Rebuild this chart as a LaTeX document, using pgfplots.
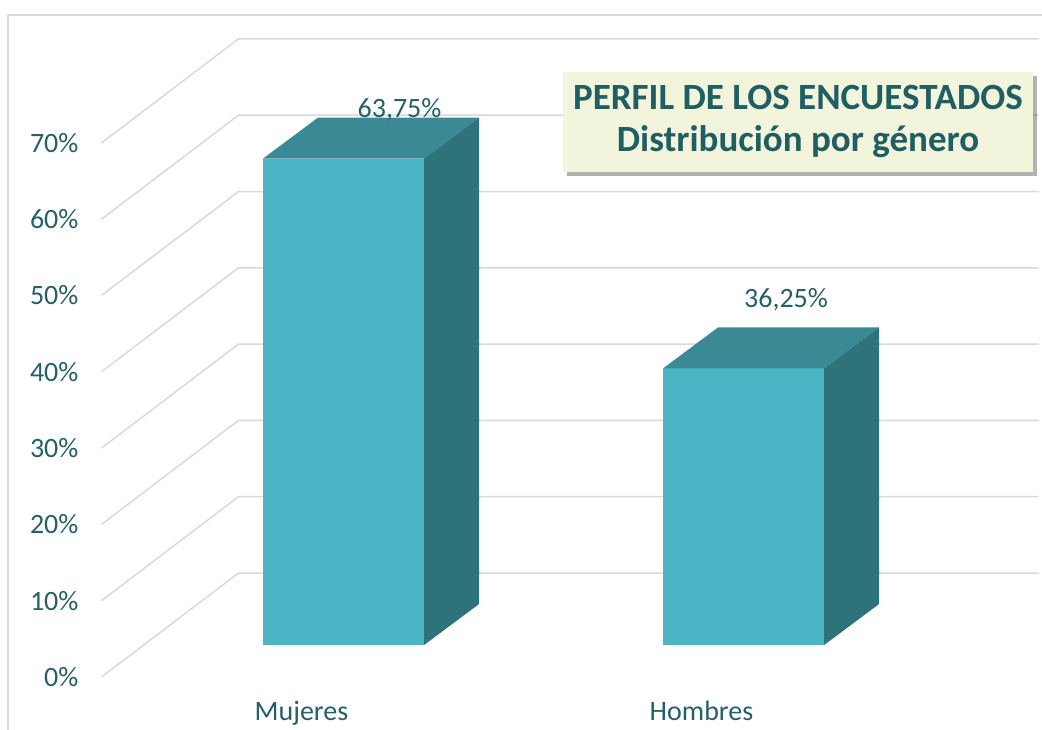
\documentclass[border=0pt]{standalone}
\usepackage{fontspec}
\setmainfont{Carlito}
\usepackage{pgfplots}
\usepackage{pgfplotstable}
\pgfplotsset{compat=1.18}
\usetikzlibrary{shadows}
\definecolor{gridc}{RGB}{217,217,217}
\definecolor{txt}{RGB}{38,95,103}
\definecolor{ttl}{RGB}{31,94,99}
\definecolor{bfront}{RGB}{75,181,198}
\definecolor{btop}{RGB}{59,137,148}
\definecolor{bside}{RGB}{46,114,122}
\definecolor{boxfill}{RGB}{242,244,220}
\pgfplotstableread{
cat value
0 63.75
1 36.25
}\data
\begin{document}
\begin{tikzpicture}
\pgfplotstablegetelem{0}{value}\of\data \let\vA\pgfplotsretval
\pgfplotstablegetelem{1}{value}\of\data \let\vB\pgfplotsretval
\pgfmathsetmacro\tA{4.19+\vA}\pgfmathsetmacro\tAb{9.56+\vA}
\pgfmathsetmacro\tB{4.19+\vB}\pgfmathsetmacro\tBb{9.56+\vB}
\begin{axis}[
  x=200pt, y=3.815pt,
  xmin=-0.5, xmax=1.5, ymin=0, ymax=70,
  clip=false,
  axis line style={draw=none},
  major tick length=0pt,
  xtick={0,1}, xticklabels={Mujeres,Hombres},
  ytick={0,10,...,70},
  /pgf/number format/assume math mode=true,
  yticklabel={\pgfmathprintnumber{\tick}\%},
  tick label style={text=txt, font=\fontsize{14}{16}\selectfont},
  yticklabel style={xshift=-8pt},
  xticklabel style={yshift=-8.5pt},
]
\draw[gridc, line width=0.75pt] (axis cs:-0.73375,86.76) -- (axis cs:1.95,86.76);
\draw[gridc, line width=0.75pt] (axis cs:-0.73375,86.76) -- (axis cs:-0.73375,-10);
% background grid
\addplot[gridc, line width=0.75pt] coordinates {(-0.5,0) (-0.1575,13.63) (1.8425,13.63)};
\addplot[gridc, line width=0.75pt] coordinates {(-0.5,10) (-0.1575,23.63) (1.8425,23.63)};
\addplot[gridc, line width=0.75pt] coordinates {(-0.5,20) (-0.1575,33.63) (1.8425,33.63)};
\addplot[gridc, line width=0.75pt] coordinates {(-0.5,30) (-0.1575,43.63) (1.8425,43.63)};
\addplot[gridc, line width=0.75pt] coordinates {(-0.5,40) (-0.1575,53.63) (1.8425,53.63)};
\addplot[gridc, line width=0.75pt] coordinates {(-0.5,50) (-0.1575,63.63) (1.8425,63.63)};
\addplot[gridc, line width=0.75pt] coordinates {(-0.5,60) (-0.1575,73.63) (1.8425,73.63)};
\addplot[gridc, line width=0.75pt] coordinates {(-0.5,70) (-0.1575,83.63) (1.8425,83.63)};
% bar Mujeres
\addplot[fill=bfront, draw=none] coordinates {(-0.0963,4.19) (0.3063,4.19) (0.3063,\tA) (-0.0963,\tA)} -- cycle;
\addplot[fill=btop, draw=none] coordinates {(-0.0963,\tA) (0.3063,\tA) (0.4438,\tAb) (0.0412,\tAb)} -- cycle;
\addplot[fill=bside, draw=none] coordinates {(0.3063,4.19) (0.4438,9.56) (0.4438,\tAb) (0.3063,\tA)} -- cycle;
% bar Hombres
\addplot[fill=bfront, draw=none] coordinates {(0.9037,4.19) (1.3063,4.19) (1.3063,\tB) (0.9037,\tB)} -- cycle;
\addplot[fill=btop, draw=none] coordinates {(0.9037,\tB) (1.3063,\tB) (1.4438,\tBb) (1.0412,\tBb)} -- cycle;
\addplot[fill=bside, draw=none] coordinates {(1.3063,4.19) (1.4438,9.56) (1.4438,\tBb) (1.3063,\tB)} -- cycle;
% labels
\node[text=txt, font=\fontsize{14}{16}\selectfont] at (axis cs:0.245,74.31) {63,75\%};
\node[text=txt, font=\fontsize{14}{16}\selectfont] at (axis cs:1.21125,49.41) {36,25\%};
% title box
\node[fill=boxfill, draw=none,
  drop shadow={shadow xshift=1.8pt, shadow yshift=-2.2pt, fill=black, opacity=0.3},
  minimum width=235pt, minimum height=50pt, inner sep=2pt, align=center, text=ttl,
  font=\bfseries\fontsize{18.5}{21}\selectfont]
  at (axis cs:1.24125,72.74) {PERFIL DE LOS ENCUESTADOS\\Distribución por género};
\coordinate (bl) at (axis cs:-0.75375,-6.815);
\coordinate (tr) at (axis cs:1.85125,88.73);
\end{axis}
\pgfresetboundingbox
\path (bl) rectangle (tr);
\end{tikzpicture}
\end{document}
